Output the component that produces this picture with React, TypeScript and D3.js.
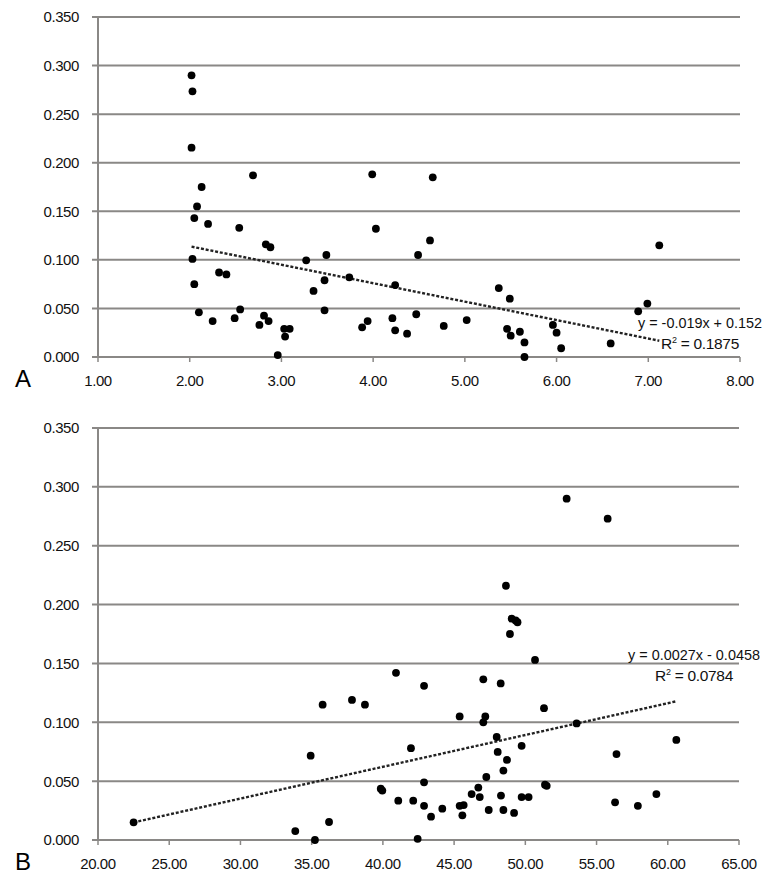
import React from "react";
import * as d3 from "d3";

// ---------- Data ----------
const aX = [2.02, 2.03, 2.02, 2.69, 2.13, 3.99, 4.65, 2.08, 2.05, 2.20, 2.54, 4.03, 4.62, 2.83, 2.88, 2.03, 3.27, 3.49, 4.49, 2.32, 2.40, 2.05, 3.74, 3.47, 4.24, 3.35, 2.10, 2.25, 2.49, 2.55, 3.47, 2.81, 2.76, 2.86, 3.03, 3.09, 3.04, 2.96, 3.88, 3.94, 4.21, 4.24, 4.37, 4.47, 7.12, 5.37, 5.49, 4.77, 5.02, 5.46, 5.50, 5.60, 5.65, 5.65, 5.96, 6.00, 6.05, 6.59, 6.89, 6.99];
const aY = [0.290, 0.2735, 0.2155, 0.187, 0.175, 0.188, 0.185, 0.155, 0.143, 0.137, 0.133, 0.132, 0.120, 0.116, 0.113, 0.101, 0.0995, 0.105, 0.105, 0.087, 0.085, 0.075, 0.082, 0.079, 0.074, 0.068, 0.046, 0.037, 0.040, 0.049, 0.048, 0.0425, 0.033, 0.037, 0.029, 0.029, 0.021, 0.002, 0.0305, 0.037, 0.040, 0.0275, 0.024, 0.044, 0.115, 0.071, 0.060, 0.032, 0.038, 0.029, 0.022, 0.026, 0.015, 0.000, 0.033, 0.025, 0.009, 0.014, 0.047, 0.055];

const bX = [48.64, 49.04, 49.32, 49.45, 48.92, 50.68, 40.92, 47.05, 48.27, 42.89, 35.77, 37.83, 38.74, 51.31, 45.39, 47.19, 47.05, 47.99, 49.74, 41.97, 48.06, 34.93, 48.71, 48.46, 47.26, 42.89, 39.85, 39.96, 46.70, 46.23, 46.80, 48.29, 49.74, 50.23, 51.38, 51.50, 41.08, 42.13, 42.89, 44.17, 43.38, 45.39, 45.67, 45.58, 47.43, 48.46, 49.21, 33.85, 36.22, 35.23, 42.44, 52.90, 55.78, 53.60, 56.40, 56.30, 57.90, 59.20, 60.60, 22.50];
const bY = [0.216, 0.188, 0.1865, 0.185, 0.175, 0.153, 0.142, 0.1365, 0.133, 0.131, 0.115, 0.119, 0.115, 0.112, 0.105, 0.105, 0.100, 0.0875, 0.080, 0.078, 0.0748, 0.0716, 0.068, 0.059, 0.0535, 0.049, 0.0436, 0.042, 0.0445, 0.039, 0.0365, 0.0377, 0.0365, 0.0365, 0.047, 0.046, 0.0334, 0.0334, 0.029, 0.0266, 0.0198, 0.029, 0.0297, 0.021, 0.0255, 0.0255, 0.023, 0.0076, 0.0153, 0.000, 0.001, 0.290, 0.273, 0.099, 0.073, 0.032, 0.029, 0.039, 0.085, 0.015];

const yTicks = [0, 0.05, 0.1, 0.15, 0.2, 0.25, 0.3, 0.35];
const aXTicks = [1, 2, 3, 4, 5, 6, 7, 8];
const bXTicks = [20, 25, 30, 35, 40, 45, 50, 55, 60, 65];

const aSlope = -0.019;
const aIntercept = 0.152;
const bSlope = 0.0027;
const bIntercept = -0.0458;
const aEquation = ["y = -0.019x + 0.152", "0.1875"];
const bEquation = ["y = 0.0027x - 0.0458", "0.0784"];

// ---------- Styles ----------
const GRID = "#8a8886";
const FONT = "'Liberation Sans', Arial, Helvetica, sans-serif";

type PanelProps = {
  xs: number[];
  ys: number[];
  xTicks: number[];
  xDomain: [number, number];
  left: number;
  right: number;
  top: number;
  bottom: number;
  slope: number;
  intercept: number;
  eq: string[];
  eqCenterX: number;
  eqBaseY: number;
  eqWidth: number;
  letter: string;
};

function Panel(p: PanelProps) {
  const x = d3.scaleLinear().domain(p.xDomain).range([p.left, p.right]);
  const y = d3.scaleLinear().domain([0, 0.35]).range([p.bottom, p.top]);
  const fmtY = d3.format(".3f");
  const fmtX = d3.format(".2f");
  const [xmin, xmax] = d3.extent(p.xs) as [number, number];
  const trend = d3.line<number>()
    .x((d) => x(d))
    .y((d) => y(p.slope * d + p.intercept));
  return (
    <g>
      {yTicks.map((t) => (
        <g key={"g" + t}>
          <line x1={p.left - 6} x2={p.right} y1={y(t)} y2={y(t)} stroke={GRID} strokeWidth={2} />
          <text x={79} y={y(t)} dy="0.36em" textAnchor="end" fontSize={15} fontFamily={FONT} fill="#111" letterSpacing={-0.4}>
            {fmtY(t)}
          </text>
        </g>
      ))}
      <line x1={p.left} x2={p.left} y1={p.top} y2={p.bottom} stroke={GRID} strokeWidth={2} />
      {p.xTicks.map((t) => (
        <g key={"x" + t}>
          <line x1={x(t)} x2={x(t)} y1={p.bottom} y2={p.bottom + 5} stroke={GRID} strokeWidth={1.5} />
          <text x={x(t)} y={p.bottom + 29} textAnchor="middle" fontSize={15} fontFamily={FONT} fill="#111" letterSpacing={-0.4}>
            {fmtX(t)}
          </text>
        </g>
      ))}
      <path d={trend([xmin, xmax]) || ""} fill="none" stroke="#222" strokeWidth={2.4} strokeDasharray="3,1.8" />
      {p.xs.map((v, i) => (
        <circle key={"c" + i} cx={x(v)} cy={y(p.ys[i])} r={3.9} fill="#000" />
      ))}
      <text x={p.eqCenterX} y={p.eqBaseY} textAnchor="middle" fontSize={15.5} fontFamily={FONT} fill="#111" textLength={p.eqWidth} lengthAdjust="spacingAndGlyphs">
        {p.eq[0]}
      </text>
      <text x={p.eqCenterX} y={p.eqBaseY + 21} textAnchor="middle" fontSize={15.5} fontFamily={FONT} fill="#111" letterSpacing={-0.3}>
        R<tspan fontSize={9} dy={-6}>2</tspan><tspan dy={6}>{" = " + p.eq[1]}</tspan>
      </text>
      <text x={15} y={p.bottom + 30} fontSize={24} fontFamily={FONT} fill="#000">
        {p.letter}
      </text>
    </g>
  );
}

export default function App() {
  return (
    <svg width={782} height={882} style={{ position: "absolute", left: 0, top: 0, background: "#fff" }}>
      <rect width={782} height={882} fill="#fff" />
      <Panel
        xs={aX} ys={aY} xTicks={aXTicks} xDomain={[1, 8]}
        left={98} right={740} top={17} bottom={357}
        slope={aSlope} intercept={aIntercept} eq={aEquation}
        eqCenterX={700} eqBaseY={328} eqWidth={124} letter="A"
      />
      <Panel
        xs={bX} ys={bY} xTicks={bXTicks} xDomain={[20, 65]}
        left={98} right={739} top={428} bottom={840}
        slope={bSlope} intercept={bIntercept} eq={bEquation}
        eqCenterX={694} eqBaseY={660} eqWidth={132} letter="B"
      />
    </svg>
  );
}
